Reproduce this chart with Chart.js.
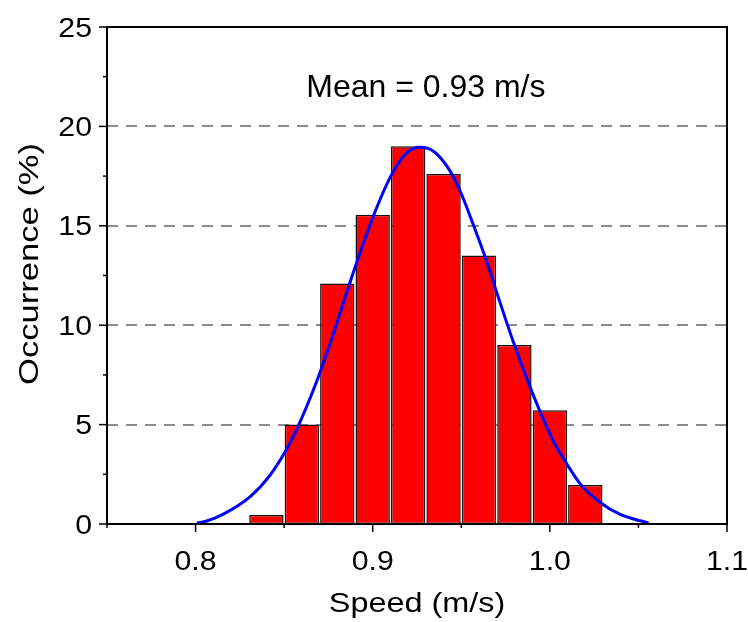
<!DOCTYPE html>
<html>
<head>
<meta charset="utf-8">
<script src="https://cdn.jsdelivr.net/npm/chart.js@4.4.1/dist/chart.umd.min.js"></script>
<style>
  html, body { margin: 0; padding: 0; background: #fff; }
  canvas { display: block; }
</style>
</head>
<body>
<canvas id="speedChart" width="748" height="622"></canvas>
<script>
// histogram: centre of each 0.02 m/s bin and its occurrence in %
const binCenters = [0.84, 0.86, 0.88, 0.90, 0.92, 0.94, 0.96, 0.98, 1.00, 1.02];
const occurrence = [0.45, 5.0, 12.1, 15.55, 19.0, 17.6, 13.5, 9.0, 5.72, 1.96];

// fitted normal curve
const fitSpeed = [0.8007, 0.8063, 0.8157, 0.8307, 0.842, 0.8509, 0.8571, 0.8684, 0.8759, 0.890,
  0.9004, 0.9108, 0.9192, 0.9267, 0.9343, 0.9437, 0.9503, 0.9568, 0.9634, 0.970,
  0.9794, 0.9879, 0.9945, 1.002, 1.0096, 1.0171, 1.0284, 1.0397, 1.051, 1.0557];
const fitOccurrence = [0.05, 0.15, 0.5, 1.37, 2.45, 3.68, 4.76, 7.18, 9.07, 12.9,
  15.5, 17.6, 18.67, 18.95, 18.75, 17.75, 16.55, 15.05, 13.45, 11.65,
  9.15, 7.1, 5.65, 4.15, 3.02, 2.02, 1.08, 0.48, 0.16, 0.06];

const xTicks = [0.75, 0.8, 0.85, 0.9, 0.95, 1.0, 1.05, 1.1];
const xLabels = ['', '0.8', '', '0.9', '', '1.0', '', '1.1'];
const yTicks = [0, 2.5, 5, 7.5, 10, 12.5, 15, 17.5, 20, 22.5, 25];
const yLabels = ['0', '', '5', '', '10', '', '15', '', '20', '', '25'];
const gridValues = [5, 10, 15, 20];

const meanText = 'Mean = 0.93 m/s';
const xTitle = 'Speed (m/s)';
const yTitle = 'Occurrence (%)';

const FONT = "'Liberation Sans', Arial, sans-serif";

// text in the figure is a bit wider than plain Arial
function wideText(ctx, text, x, y, size, sx, align, rot) {
  ctx.save();
  ctx.translate(x, y);
  if (rot) ctx.rotate(rot);
  ctx.scale(sx, 1);
  ctx.font = size + 'px ' + FONT;
  ctx.textAlign = align;
  ctx.textBaseline = 'alphabetic';
  ctx.fillStyle = '#000';
  ctx.fillText(text, 0, 0);
  ctx.restore();
}

const dashedGrid = {
  id: 'dashedGrid',
  beforeDatasetsDraw(chart) {
    const { ctx, chartArea: a, scales: { y } } = chart;
    ctx.save();
    ctx.strokeStyle = '#8c8c8c';
    ctx.lineWidth = 2;
    ctx.setLineDash([11, 8]);
    gridValues.forEach(v => {
      const py = Math.round(y.getPixelForValue(v));
      ctx.beginPath();
      ctx.moveTo(a.left, py);
      ctx.lineTo(a.right, py);
      ctx.stroke();
    });
    ctx.restore();
  }
};

const frameAndText = {
  id: 'frameAndText',
  afterDraw(chart) {
    const { ctx, chartArea: a, scales: { x, y } } = chart;
    ctx.save();
    ctx.strokeStyle = '#000';
    ctx.lineWidth = 1.5;

    yTicks.forEach((v, i) => {
      const py = y.getPixelForValue(v);
      const len = yLabels[i] ? 8 : 4;
      ctx.beginPath();
      ctx.moveTo(a.left - len, py);
      ctx.lineTo(a.left, py);
      ctx.stroke();
      if (yLabels[i]) wideText(ctx, yLabels[i], a.left - 15, py + 9.5, 27, 1.12, 'right');
    });

    xTicks.forEach((v, i) => {
      const px = x.getPixelForValue(v);
      const len = xLabels[i] ? 8 : 4;
      ctx.beginPath();
      ctx.moveTo(px, a.bottom);
      ctx.lineTo(px, a.bottom + len);
      ctx.stroke();
      if (xLabels[i]) wideText(ctx, xLabels[i], px, a.bottom + 46, 27, 1.12, 'center');
    });

    ctx.lineWidth = 2;
    ctx.strokeRect(a.left, a.top, a.right - a.left, a.bottom - a.top);

    wideText(ctx, xTitle, (a.left + a.right) / 2, a.bottom + 88, 27, 1.2, 'center');
    wideText(ctx, yTitle, 38, 264, 27, 1.28, 'center', -Math.PI / 2);
    wideText(ctx, meanText, x.getPixelForValue(0.93), y.getPixelForValue(21.5), 32, 1.0, 'center');
    ctx.restore();
  }
};

const speedCtx = document.getElementById('speedChart').getContext('2d');

const speedChart = new Chart(speedCtx, {
  type: 'bar',
  data: {
    datasets: [
      {
        type: 'line',
        data: fitSpeed.map((s, i) => ({ x: s, y: fitOccurrence[i] })),
        borderColor: '#0000ff',
        borderWidth: 3,
        pointRadius: 0,
        cubicInterpolationMode: 'monotone',
        fill: false,
        order: 0
      },
      {
        type: 'bar',
        data: binCenters.map((c, i) => ({ x: c, y: occurrence[i] })),
        backgroundColor: '#ff0000',
        borderColor: '#111111',
        borderWidth: 1.5,
        borderSkipped: false,
        barPercentage: 0.97,
        categoryPercentage: 1,
        order: 1
      }
    ]
  },
  options: {
    responsive: false,
    animation: false,
    layout: { padding: { top: 27, right: 21, left: 0, bottom: 0 } },
    plugins: {
      legend: { display: false },
      tooltip: { enabled: false }
    },
    scales: {
      x: {
        type: 'linear',
        min: 0.75,
        max: 1.1,
        offset: false,
        grid: { display: false },
        border: { display: false },
        ticks: { display: false },
        afterFit: s => { s.height = 98; }
      },
      y: {
        min: 0,
        max: 25,
        grid: { display: false },
        border: { display: false },
        ticks: { display: false },
        afterFit: s => { s.width = 107; }
      }
    }
  },
  plugins: [dashedGrid, frameAndText]
});
</script>
</body>
</html>
